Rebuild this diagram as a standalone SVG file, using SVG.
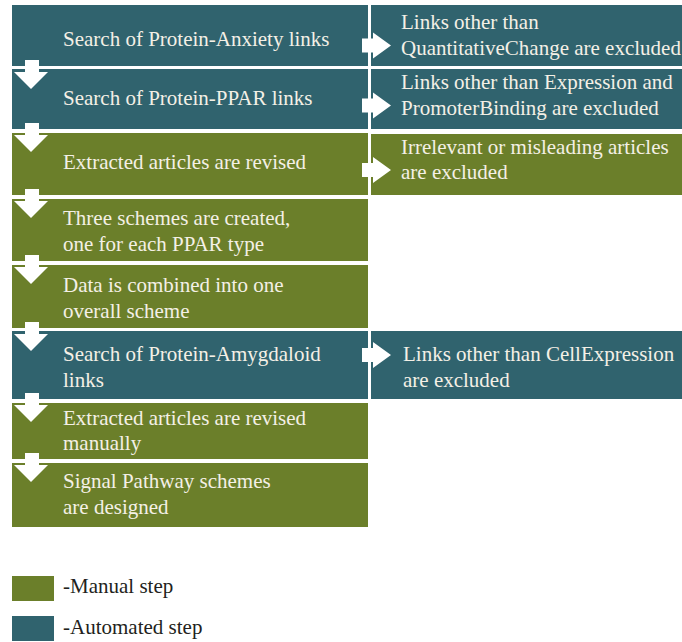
<svg xmlns="http://www.w3.org/2000/svg" width="682" height="642" viewBox="0 0 682 642">
<style>
.auto{fill:#30636e}
.man{fill:#6b7f2a}
.t{font-family:"Liberation Serif","Times New Roman",serif;font-size:21px;fill:#f4f0e6}
.lg{font-family:"Liberation Serif","Times New Roman",serif;font-size:21px;fill:#231f20}
.arr{fill:#ffffff}
</style>
<rect width="682" height="642" fill="#ffffff"/>
<g id="n1"><rect class="auto" x="12" y="5" width="356" height="61"/><text class="t" x="63" y="46">Search of Protein-Anxiety links</text></g>
<g id="n2"><rect class="auto" x="12" y="69" width="356" height="60"/><text class="t" x="63" y="105">Search of Protein-PPAR links</text></g>
<g id="n3"><rect class="man" x="12" y="133" width="356" height="62"/><text class="t" x="63" y="169">Extracted articles are revised</text></g>
<g id="n4"><rect class="man" x="12" y="199" width="356" height="62"/><text class="t" x="63" y="225">Three schemes are created,</text><text class="t" x="63" y="251">one for each PPAR type</text></g>
<g id="n5"><rect class="man" x="12" y="265" width="356" height="63"/><text class="t" x="63" y="292">Data is combined into one</text><text class="t" x="63" y="318">overall scheme</text></g>
<g id="n6"><rect class="auto" x="12" y="331" width="356" height="68"/><text class="t" x="63" y="361">Search of Protein-Amygdaloid</text><text class="t" x="63" y="387">links</text></g>
<g id="n7"><rect class="man" x="12" y="403" width="356" height="56"/><text class="t" x="63" y="425">Extracted articles are revised</text><text class="t" x="63" y="450">manually</text></g>
<g id="n8"><rect class="man" x="12" y="463" width="356" height="64"/><text class="t" x="63" y="488">Signal Pathway schemes</text><text class="t" x="63" y="514">are designed</text></g>
<g id="r1"><rect class="auto" x="371" y="5" width="311" height="61"/><text class="t" x="401" y="29">Links other than</text><text class="t" x="401" y="55">QuantitativeChange are excluded</text></g>
<g id="r2"><rect class="auto" x="371" y="69" width="311" height="60"/><text class="t" x="401" y="89">Links other than Expression and</text><text class="t" x="401" y="115">PromoterBinding are excluded</text></g>
<g id="r3"><rect class="man" x="371" y="134" width="311" height="61"/><text class="t" x="401" y="154">Irrelevant or misleading articles</text><text class="t" x="401" y="179">are excluded</text></g>
<g id="r6"><rect class="auto" x="371" y="331" width="311" height="68"/><text class="t" x="403" y="361">Links other than CellExpression</text><text class="t" x="403" y="387">are excluded</text></g>
<g id="connectors">
<path class="arr" d="M25 60H39V72H48L31 89L14 72H25Z"/>
<path class="arr" d="M25 123H39V135H48L31 152L14 135H25Z"/>
<path class="arr" d="M25 189H39V201H48L31 218L14 201H25Z"/>
<path class="arr" d="M25 255H39V267H48L31 284L14 267H25Z"/>
<path class="arr" d="M25 322H39V334H48L31 351L14 334H25Z"/>
<path class="arr" d="M25 393H39V405H48L31 422L14 405H25Z"/>
<path class="arr" d="M25 453H39V465H48L31 482L14 465H25Z"/>
<path class="arr" d="M362 38.5H373V32.5L391 45.5L373 58.5V52.5H362Z"/>
<path class="arr" d="M362 98.5H373V92.5L391 105.5L373 118.5V112.5H362Z"/>
<path class="arr" d="M362 163H373V157L391 170L373 183V177H362Z"/>
<path class="arr" d="M362 348H373V342L391 355L373 368V362H362Z"/>
</g>
<g id="legend">
<rect class="man" x="12" y="576" width="42" height="25"/>
<text class="lg" x="63" y="593">-Manual step</text>
<rect class="auto" x="12" y="616" width="42" height="25"/>
<text class="lg" x="63" y="634">-Automated step</text>
</g>
</svg>
